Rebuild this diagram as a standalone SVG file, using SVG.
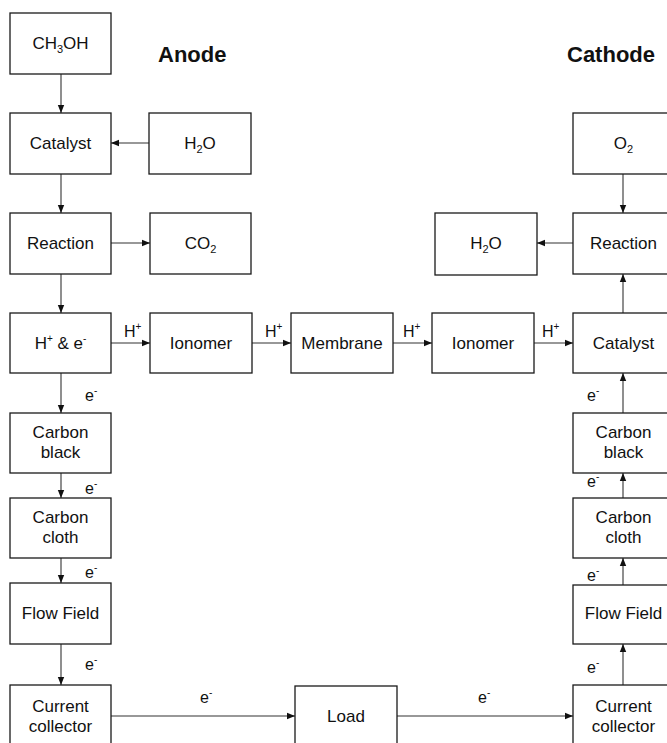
<svg xmlns="http://www.w3.org/2000/svg" width="667" height="743" viewBox="0 0 667 743">
<defs>
<style>
.box{fill:#fff;stroke:#1a1a1a;stroke-width:1.3}
.t{font-family:"Liberation Sans",Arial,sans-serif;font-size:17px;fill:#111;text-anchor:middle}
.h{font-family:"Liberation Sans",Arial,sans-serif;font-size:22px;font-weight:bold;fill:#111}
.l{font-family:"Liberation Sans",Arial,sans-serif;font-size:16px;fill:#111}
.c{stroke:#333;stroke-width:1.1;fill:none;marker-end:url(#ah)}
.sup{font-size:10px}
.sub{font-size:11px}
</style>
<marker id="ah" markerUnits="userSpaceOnUse" markerWidth="9" markerHeight="8" refX="8" refY="4" orient="auto">
<path d="M0,0.8 L8,4 L0,7.2 Z" fill="#111"/>
</marker>
</defs>
<rect width="667" height="743" fill="#fff"/>
<text class="h" x="158" y="62">Anode</text>
<text class="h" x="567" y="62">Cathode</text>

<g id="connectors">
<line class="c" x1="61" y1="74" x2="61" y2="113"/>
<line class="c" x1="149" y1="143" x2="111" y2="143"/>
<line class="c" x1="61" y1="174" x2="61" y2="213"/>
<line class="c" x1="111" y1="243" x2="150" y2="243"/>
<line class="c" x1="61" y1="274" x2="61" y2="313"/>
<line class="c" x1="111" y1="343" x2="150" y2="343"/>
<line class="c" x1="252" y1="343" x2="291" y2="343"/>
<line class="c" x1="393" y1="343" x2="432" y2="343"/>
<line class="c" x1="534" y1="343" x2="573" y2="343"/>
<line class="c" x1="61" y1="373" x2="61" y2="413"/>
<line class="c" x1="61" y1="473" x2="61" y2="498"/>
<line class="c" x1="61" y1="558" x2="61" y2="583"/>
<line class="c" x1="61" y1="644" x2="61" y2="685"/>
<line class="c" x1="111" y1="716" x2="295" y2="716"/>
<line class="c" x1="397" y1="716" x2="573" y2="716"/>
<line class="c" x1="623" y1="174" x2="623" y2="213"/>
<line class="c" x1="573" y1="243" x2="537" y2="243"/>
<line class="c" x1="623" y1="313" x2="623" y2="274"/>
<line class="c" x1="623" y1="413" x2="623" y2="373"/>
<line class="c" x1="623" y1="498" x2="623" y2="473"/>
<line class="c" x1="623" y1="585" x2="623" y2="558"/>
<line class="c" x1="623" y1="685" x2="623" y2="644"/>
<text class="l" x="124" y="337">H<tspan class="sup" dy="-7">+</tspan></text>
<text class="l" x="265" y="337">H<tspan class="sup" dy="-7">+</tspan></text>
<text class="l" x="403" y="337">H<tspan class="sup" dy="-7">+</tspan></text>
<text class="l" x="542" y="337">H<tspan class="sup" dy="-7">+</tspan></text>
<text class="l" x="85" y="401">e<tspan class="sup" dy="-7">-</tspan></text>
<text class="l" x="85" y="494">e<tspan class="sup" dy="-7">-</tspan></text>
<text class="l" x="85" y="578">e<tspan class="sup" dy="-7">-</tspan></text>
<text class="l" x="85" y="670">e<tspan class="sup" dy="-7">-</tspan></text>
<text class="l" x="200" y="703">e<tspan class="sup" dy="-7">-</tspan></text>
<text class="l" x="478" y="703">e<tspan class="sup" dy="-7">-</tspan></text>
<text class="l" x="587" y="401">e<tspan class="sup" dy="-7">-</tspan></text>
<text class="l" x="587" y="487">e<tspan class="sup" dy="-7">-</tspan></text>
<text class="l" x="587" y="581">e<tspan class="sup" dy="-7">-</tspan></text>
<text class="l" x="587" y="673">e<tspan class="sup" dy="-7">-</tspan></text>
</g>

<g id="ch3oh"><rect class="box" x="10" y="13" width="101" height="61"/><text class="t" x="60.5" y="49">CH<tspan class="sub" dy="4">3</tspan><tspan dy="-4">OH</tspan></text></g>
<g id="a-catalyst"><rect class="box" x="10" y="113" width="101" height="61"/><text class="t" x="60.5" y="149">Catalyst</text></g>
<g id="a-h2o"><rect class="box" x="149" y="113" width="102" height="61"/><text class="t" x="200" y="149">H<tspan class="sub" dy="4">2</tspan><tspan dy="-4">O</tspan></text></g>
<g id="a-reaction"><rect class="box" x="10" y="213" width="101" height="61"/><text class="t" x="60.5" y="249">Reaction</text></g>
<g id="co2"><rect class="box" x="150" y="213" width="101" height="61"/><text class="t" x="200.5" y="249">CO<tspan class="sub" dy="4">2</tspan></text></g>
<g id="hplus"><rect class="box" x="10" y="313" width="101" height="60"/><text class="t" x="60.5" y="349">H<tspan class="sup" dy="-7">+</tspan><tspan dy="7"> &amp; e</tspan><tspan class="sup" dy="-7">-</tspan></text></g>
<g id="ionomer1"><rect class="box" x="150" y="313" width="102" height="60"/><text class="t" x="201" y="349">Ionomer</text></g>
<g id="membrane"><rect class="box" x="291" y="313" width="102" height="60"/><text class="t" x="342" y="349">Membrane</text></g>
<g id="ionomer2"><rect class="box" x="432" y="313" width="102" height="60"/><text class="t" x="483" y="349">Ionomer</text></g>
<g id="c-catalyst"><rect class="box" x="573" y="313" width="101" height="60"/><text class="t" x="623.5" y="349">Catalyst</text></g>
<g id="a-carbonblack"><rect class="box" x="10" y="413" width="101" height="60"/><text class="t" x="60.5" y="438">Carbon</text><text class="t" x="60.5" y="458">black</text></g>
<g id="a-carboncloth"><rect class="box" x="10" y="498" width="101" height="60"/><text class="t" x="60.5" y="523">Carbon</text><text class="t" x="60.5" y="543">cloth</text></g>
<g id="a-flowfield"><rect class="box" x="10" y="583" width="101" height="61"/><text class="t" x="60.5" y="619">Flow Field</text></g>
<g id="a-collector"><rect class="box" x="10" y="685" width="101" height="62"/><text class="t" x="60.5" y="712">Current</text><text class="t" x="60.5" y="732">collector</text></g>
<g id="load"><rect class="box" x="295" y="686" width="102" height="62"/><text class="t" x="346" y="722">Load</text></g>
<g id="o2"><rect class="box" x="573" y="113" width="101" height="61"/><text class="t" x="623.5" y="149">O<tspan class="sub" dy="4">2</tspan></text></g>
<g id="c-reaction"><rect class="box" x="573" y="213" width="101" height="61"/><text class="t" x="623.5" y="249">Reaction</text></g>
<g id="c-h2o"><rect class="box" x="435" y="213" width="102" height="62"/><text class="t" x="486" y="249">H<tspan class="sub" dy="4">2</tspan><tspan dy="-4">O</tspan></text></g>
<g id="c-carbonblack"><rect class="box" x="573" y="413" width="101" height="60"/><text class="t" x="623.5" y="438">Carbon</text><text class="t" x="623.5" y="458">black</text></g>
<g id="c-carboncloth"><rect class="box" x="573" y="498" width="101" height="60"/><text class="t" x="623.5" y="523">Carbon</text><text class="t" x="623.5" y="543">cloth</text></g>
<g id="c-flowfield"><rect class="box" x="573" y="585" width="101" height="59"/><text class="t" x="623.5" y="619">Flow Field</text></g>
<g id="c-collector"><rect class="box" x="573" y="685" width="101" height="62"/><text class="t" x="623.5" y="712">Current</text><text class="t" x="623.5" y="732">collector</text></g>
</svg>
